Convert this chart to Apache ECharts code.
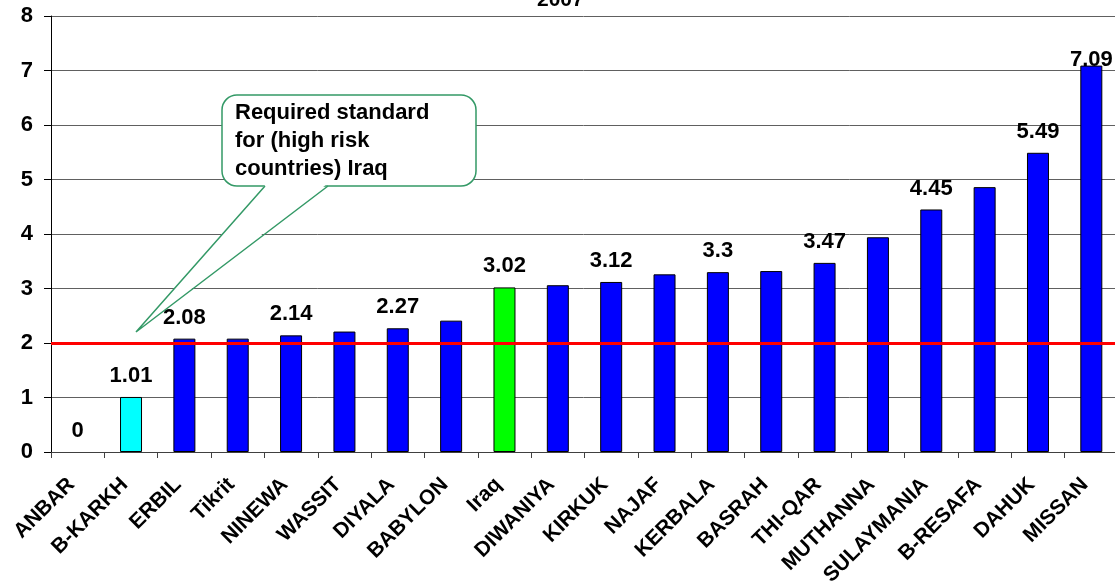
<!DOCTYPE html>
<html>
<head>
<meta charset="utf-8">
<script src="https://cdn.jsdelivr.net/npm/echarts@6/dist/echarts.min.js"></script>
<style>
  html, body { margin: 0; padding: 0; background: #fff; }
  #chart { width: 1115px; height: 586px; }
</style>
</head>
<body>
<div id="chart"></div>
<script>
const titleText = '2007';
const categories = ['ANBAR', 'B-KARKH', 'ERBIL', 'Tikrit', 'NINEWA', 'WASSIT', 'DIYALA', 'BABYLON', 'Iraq', 'DIWANIYA', 'KIRKUK', 'NAJAF', 'KERBALA', 'BASRAH', 'THI-QAR', 'MUTHANNA', 'SULAYMANIA', 'B-RESAFA', 'DAHUK', 'MISSAN'];
const values = [0, 1.01, 2.08, 2.08, 2.14, 2.21, 2.27, 2.41, 3.02, 3.06, 3.12, 3.26, 3.3, 3.32, 3.47, 3.94, 4.45, 4.86, 5.49, 7.09];
const labelledCategories = ['ANBAR', 'B-KARKH', 'ERBIL', 'NINEWA', 'DIYALA', 'Iraq', 'KIRKUK', 'KERBALA', 'THI-QAR', 'SULAYMANIA', 'DAHUK', 'MISSAN'];
const standardValue = 2;
const yTicks = [0, 1, 2, 3, 4, 5, 6, 7, 8];
const calloutLines = ['Required standard', 'for (high risk', 'countries) Iraq'];

const FONT = '"Liberation Sans", Arial, sans-serif';
const colorFor = (name) => name === 'Iraq' ? '#00FF00' : (name === 'B-KARKH' ? '#00FFFF' : '#0000FF');

const data = categories.map((name, i) => {
  const item = {
    value: values[i],
    itemStyle: { color: colorFor(name), borderWidth: values[i] === 0 ? 0 : 1 },
    label: { show: labelledCategories.includes(name) }
  };
  if (name === 'MISSAN') item.label.offset = [0, 15];
  return item;
});

const GREEN = '#339966';
const chart = echarts.init(document.getElementById('chart'), null, { renderer: 'canvas' });
chart.setOption({
  animation: false,
  backgroundColor: '#ffffff',
  title: {
    text: titleText,
    left: 537, top: -10, padding: 0,
    textStyle: { fontFamily: FONT, fontSize: 21, fontWeight: 'bold', color: '#000' }
  },
  grid: { left: 51, right: -3, top: 16, bottom: 134, containLabel: false, outerBoundsMode: 'none' },
  xAxis: {
    type: 'category',
    data: categories,
    axisLine: { show: true, lineStyle: { color: '#404040', width: 1 } },
    axisTick: { show: true, length: 6, lineStyle: { color: '#404040' } },
    axisLabel: {
      interval: 0, rotate: 45, margin: 23,
      padding: [0, 9, 0, 0],
      fontFamily: FONT, fontSize: 21, fontWeight: 'bold', color: '#000'
    },
    splitLine: { show: false }
  },
  yAxis: {
    type: 'value',
    min: yTicks[0], max: yTicks[yTicks.length - 1], interval: 1,
    axisLine: { show: true, lineStyle: { color: '#000', width: 1 } },
    axisTick: { show: true, length: 7, lineStyle: { color: '#000' } },
    axisLabel: { margin: 18, fontFamily: FONT, fontSize: 22, fontWeight: 'bold', color: '#000' },
    splitLine: { show: true, lineStyle: { color: '#606060', width: 1 } }
  },
  series: [{
    type: 'bar',
    data: data,
    barWidth: 22,
    itemStyle: { borderColor: '#000', borderWidth: 1 },
    label: {
      position: 'top', distance: 10,
      fontFamily: FONT, fontSize: 22, fontWeight: 'bold', color: '#000'
    },
    markLine: {
      silent: true,
      symbol: ['none', 'none'],
      label: { show: false },
      lineStyle: { color: '#FF0000', width: 3, type: 'solid' },
      data: [{ yAxis: standardValue }]
    }
  }],
  graphic: [
    {
      type: 'rect', z: 100,
      shape: { x: 222, y: 95, width: 254, height: 91, r: 15 },
      style: { fill: '#ffffff', stroke: GREEN, lineWidth: 1.5 }
    },
    {
      type: 'polygon', z: 101,
      shape: { points: [[266, 184], [136, 332], [327, 184]] },
      style: { fill: '#ffffff', stroke: null }
    },
    {
      type: 'polyline', z: 102,
      shape: { points: [[265, 186], [136, 332], [328, 186]] },
      style: { fill: null, stroke: GREEN, lineWidth: 1.5 }
    },
    {
      type: 'text',
      z: 103,
      left: 235, top: 99,
      style: {
        text: calloutLines.join('\n'),
        font: 'bold 22px ' + FONT,
        lineHeight: 28,
        fill: '#000'
      }
    }
  ]
});
</script>
</body>
</html>
